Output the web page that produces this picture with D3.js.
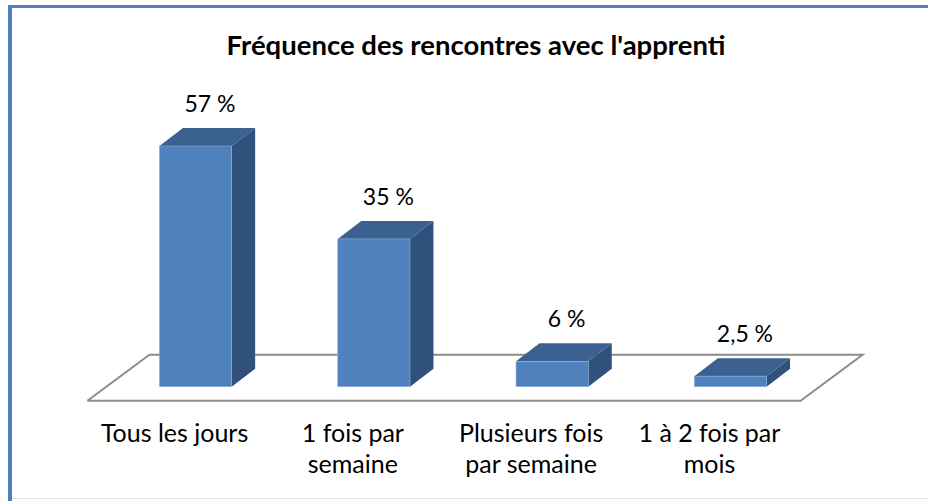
<html>
  <head>
    <meta charset="utf-8" />
    <title>Fréquence des rencontres</title>
    <script src="https://d3js.org/d3.v7.min.js"></script>
    <style>
      body {
        margin: 0;
        background: #fff;
      }
      text {
        font-family: Lato, "Open Sans", sans-serif;
        fill: #000;
      }
    </style>
  </head>
  <body>
    <svg id="chart"></svg>

    <script>
      var titleText = "Fréquence des rencontres avec l'apprenti";
      var categories = [
        ["Tous les jours"],
        ["1 fois par", "semaine"],
        ["Plusieurs fois", "par semaine"],
        ["1 à 2 fois par", "mois"]
      ];
      var values = [57, 35, 6, 2.5];
      var valueLabels = ["57 %", "35 %", "6 %", "2,5 %"];

      var width = 928;
      var height = 501;

      var svg = d3.select("#chart")
        .attr("width", width)
        .attr("height", height);

      // frame: blue rule on top and left, pale line at the bottom
      svg.append("rect")
        .attr("x", 0).attr("y", 0)
        .attr("width", width).attr("height", height)
        .attr("fill", "#fff");
      svg.append("line")
        .attr("x1", 8).attr("x2", width)
        .attr("y1", 6.5).attr("y2", 6.5)
        .attr("stroke", "#4f81bd").attr("stroke-width", 3);
      svg.append("line")
        .attr("x1", 10).attr("x2", 10)
        .attr("y1", 5).attr("y2", height)
        .attr("stroke", "#4f81bd").attr("stroke-width", 4);
      svg.append("line")
        .attr("x1", 12).attr("x2", width)
        .attr("y1", 498.5).attr("y2", 498.5)
        .attr("stroke", "#dce6f2").attr("stroke-width", 1);

      var x = d3.scaleBand()
        .domain(d3.range(values.length))
        .range([106.4, 819.6])
        .padding(0);

      var y = d3.scaleLinear()
        .domain([0, 57])
        .range([386.7, 146]);

      var barWidth = x.bandwidth() * 0.405;
      var depthX = 23.5;
      var depthY = -18;

      // floor
      var x0 = x.range()[0], x1 = x.range()[1];
      var floorFront = y(0) + 14;
      var floorBack = y(0) - 32;
      var floorShift = 62;
      svg.append("path")
        .attr("d", d3.line()([
          [x0 - 19, floorFront],
          [x1 - 19, floorFront],
          [x1 - 19 + floorShift, floorBack],
          [x0 - 19 + floorShift, floorBack],
          [x0 - 19, floorFront]
        ]))
        .attr("fill", "none")
        .attr("stroke", "#8c8c8c")
        .attr("stroke-width", 2);

      // bars
      var bars = svg.append("g").selectAll("g")
        .data(values)
        .enter().append("g");

      function left(d, i) { return x(i) + (x.bandwidth() - barWidth) / 2; }

      bars.append("path")
        .attr("fill", "#30517b")
        .attr("d", function(d, i) {
          var l = left(d, i) + barWidth;
          return d3.line()([
            [l, y(d)], [l + depthX, y(d) + depthY],
            [l + depthX, y(0) + depthY], [l, y(0)]
          ]) + "Z";
        });

      bars.append("path")
        .attr("fill", "#3a6190")
        .attr("d", function(d, i) {
          var l = left(d, i);
          return d3.line()([
            [l, y(d)], [l + depthX, y(d) + depthY],
            [l + barWidth + depthX, y(d) + depthY], [l + barWidth, y(d)]
          ]) + "Z";
        });

      bars.append("rect")
        .attr("x", left)
        .attr("y", function(d) { return y(d); })
        .attr("width", barWidth)
        .attr("height", function(d) { return y(0) - y(d); })
        .attr("fill", "#4f81bd")
        .attr("stroke", "#8fb0d8")
        .attr("stroke-width", 0.6);

      // value labels
      svg.append("g").selectAll("text")
        .data(values)
        .enter().append("text")
        .attr("x", function(d, i) { return x(i) + x.bandwidth() / 2 + 14.5; })
        .attr("y", function(d) { return y(d) + depthY - 16; })
        .attr("text-anchor", "middle")
        .style("font-size", "23px")
        .text(function(d, i) { return valueLabels[i]; });

      // category labels
      var cats = svg.append("g").selectAll("text")
        .data(categories)
        .enter().append("text")
        .attr("text-anchor", "middle")
        .attr("y", 442)
        .style("font-size", "25px");

      cats.selectAll("tspan")
        .data(function(d, i) {
          return d.map(function(s) { return { s: s, i: i }; });
        })
        .enter().append("tspan")
        .attr("x", function(d) { return x(d.i) + x.bandwidth() / 2 - 21; })
        .attr("dy", function(d, j) { return j === 0 ? 0 : 31; })
        .text(function(d) { return d.s; });

      // title
      svg.append("text")
        .attr("x", 476)
        .attr("y", 55)
        .attr("text-anchor", "middle")
        .style("font-size", "27.5px")
        .style("font-weight", "bold")
        .text(titleText);
    </script>
  </body>
</html>
